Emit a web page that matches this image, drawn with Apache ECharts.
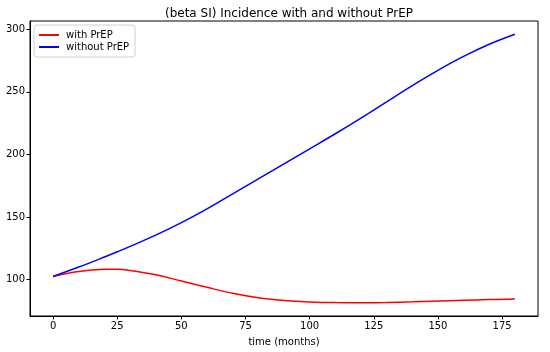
<!DOCTYPE html>
<html>
<head>
<meta charset="utf-8">
<script src="https://cdn.jsdelivr.net/npm/echarts@6/dist/echarts.min.js"></script>
<style>html,body{margin:0;padding:0;background:#fff;}#c{width:550px;height:352px;}</style>
</head>
<body>
<div id="c"></div>
<script>
const months = [0, 10, 20, 25, 30, 40, 50, 60, 70, 80, 90, 100, 110, 120, 130, 140, 150, 160, 170, 180];
const withPrEP = [102.5, 106.5, 108.2, 108.3, 107.3, 103.8, 98.9, 93.8, 89.0, 85.4, 83.3, 82.1, 81.6, 81.5, 81.7, 82.2, 82.8, 83.4, 84.0, 84.4];
const withoutPrEP = [102.5, 110.0, 118.0, 122.2, 126.5, 135.5, 145.5, 156.5, 168.5, 180.5, 192.5, 204.5, 216.5, 229.0, 242.0, 255.0, 267.2, 278.3, 288.0, 296.0];
const xTicks = [0, 25, 50, 75, 100, 125, 150, 175];
const yTicks = [100, 150, 200, 250, 300];
const titleText = '(beta SI) Incidence with and without PrEP';
const xLabel = 'time (months)';
const seriesNames = ['with PrEP', 'without PrEP'];

const font = 'DejaVu Sans';
const chart = echarts.init(document.getElementById('c'), null, {renderer: 'canvas'});
chart.setOption({
  animation: false,
  backgroundColor: '#fff',
  title: {
    text: titleText, left: 284, textAlign: 'center', top: 3,
    textStyle: {fontFamily: font, fontSize: 12, fontWeight: 'normal', color: '#000'}
  },
  legend: {
    orient: 'vertical', left: 34, top: 25,
    padding: [5, 6, 5, 5], itemGap: 2,
    itemWidth: 20, itemHeight: 2, icon: 'rect',
    borderColor: '#d0d0d0', borderWidth: 1, borderRadius: 3,
    backgroundColor: 'rgba(255,255,255,0.8)',
    textStyle: {fontFamily: font, fontSize: 10, color: '#000', padding: [0, 0, 0, 2]},
    data: seriesNames
  },
  grid: {left: 30, right: 12, top: 21, bottom: 35, show: true, borderColor: '#000', borderWidth: 1, containLabel: false},
  xAxis: {
    type: 'value', min: -9, max: 189,
    name: xLabel, nameLocation: 'middle', nameGap: 21,
    nameTextStyle: {fontFamily: font, fontSize: 10, color: '#000'},
    axisLine: {show: true, onZero: false, lineStyle: {color: '#000', width: 1}},
    axisTick: {show: true, length: 3.5, lineStyle: {color: '#000'}, customValues: xTicks},
    axisLabel: {fontFamily: font, fontSize: 10, color: '#000', margin: 5, customValues: xTicks},
    splitLine: {show: false}
  },
  yAxis: {
    type: 'value', min: 70.9, max: 306.6,
    axisLine: {show: true, onZero: false, lineStyle: {color: '#000', width: 1}},
    axisTick: {show: true, length: 3.5, lineStyle: {color: '#000'}, customValues: yTicks},
    axisLabel: {fontFamily: font, fontSize: 10, color: '#000', margin: 5, customValues: yTicks},
    splitLine: {show: false}
  },
  series: [
    {
      name: seriesNames[0], type: 'line', smooth: 0.4, showSymbol: false,
      itemStyle: {color: '#ff0000'}, lineStyle: {color: '#ff0000', width: 1.5},
      data: months.map((m, i) => [m, withPrEP[i]])
    },
    {
      name: seriesNames[1], type: 'line', smooth: 0.4, showSymbol: false,
      itemStyle: {color: '#0000ff'}, lineStyle: {color: '#0000ff', width: 1.5},
      data: months.map((m, i) => [m, withoutPrEP[i]])
    }
  ]
});
</script>
</body>
</html>
